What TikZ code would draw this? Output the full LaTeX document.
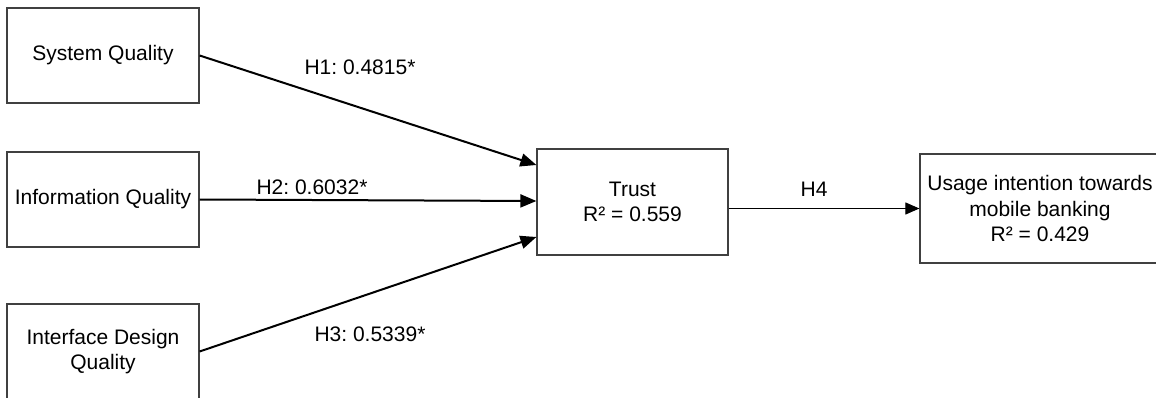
\documentclass[tikz,border=0pt]{standalone}
\usepackage{fontspec}
\setmainfont{Liberation Sans}
\usetikzlibrary{arrows.meta}
\frenchspacing
\definecolor{boxline}{HTML}{404040}
\tikzset{
  construct/.style={draw=boxline, line width=1.2pt, fill=white, align=center,
    inner sep=0pt, font=\fontsize{21}{25.5}\selectfont},
  path/.style={line width=2pt, -{Triangle[length=16pt,width=13pt]}},
  thinpath/.style={line width=1.1pt, -{Triangle[length=14pt,width=12pt]}},
  coef/.style={inner sep=0pt, font=\fontsize{21}{25.5}\selectfont},
}
\begin{document}
\begin{tikzpicture}[x=1pt,y=-1pt]
\useasboundingbox (0,0) rectangle (1156,398);
\fill[white] (0,0) rectangle (1156,398);

% constructs
\node[construct, minimum width=192pt, minimum height=95pt] (sq) at (103,55.5) {System Quality};
\node[construct, minimum width=192pt, minimum height=95pt] (iq) at (103,199.5) {Information Quality};
\node[construct, minimum width=192pt, minimum height=95pt] (idq) at (103,351.5) {Interface Design\\Quality};
\node[construct, minimum width=191pt, minimum height=106pt] (trust) at (632.5,202) {Trust\\R² = 0.559};
\node[construct, minimum width=240pt, minimum height=109pt] (usage) at (1040,208.5) {Usage intention towards\\mobile banking\\R² = 0.429};

% hypothesised paths
\draw[path] (sq.east) -- ([yshift=37pt]trust.west);
\draw[path] (iq.east) -- ([yshift=1pt]trust.west);
\draw[path] (idq.east) -- ([yshift=-35pt]trust.west);
\draw[thinpath] (trust.east |- usage.west) -- (usage.west);

% path coefficients
\node[coef] (h1) at (360,67) {H1: 0.4815*};
\node[coef] (h2) at (312,187) {H2: 0.6032*};
\node[coef] (h3) at (370,334) {H3: 0.5339*};
\node[coef] (h4) at (814,189) {H4};
\end{tikzpicture}
\end{document}
